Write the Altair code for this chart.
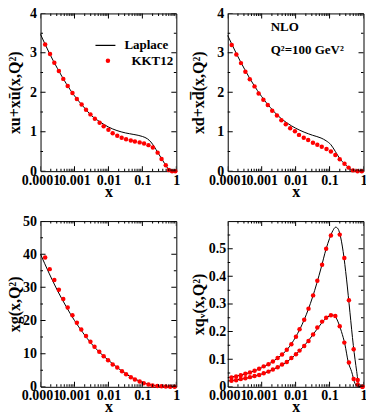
import altair as alt
import pandas as pd

# ---------------- data ----------------
# x positions are given as log10(x)
# Panel 1: xu + xubar
p1_kkt_lx = [-3.864, -3.72, -3.594, -3.46, -3.33, -3.20, -3.06, -2.93, -2.79, -2.66, -2.53, -2.40,
             -2.26, -2.14, -2.00, -1.875, -1.74, -1.61, -1.48, -1.34, -1.22, -1.08, -0.95, -0.82,
             -0.69, -0.55, -0.435, -0.31, -0.22, -0.125, -0.03]
p1_kkt_y = [3.21, 2.97, 2.75, 2.54, 2.34, 2.16, 1.98, 1.83, 1.69, 1.56, 1.44, 1.33,
            1.23, 1.14, 1.05, 0.96, 0.90, 0.85, 0.81, 0.78, 0.75, 0.73, 0.70, 0.66,
            0.60, 0.47, 0.31, 0.15, 0.03, 0.0, 0.0]
p1_lap_lx = [-4.0, -3.75, -3.5, -3.25, -3.0, -2.75, -2.5, -2.25, -2.0, -1.75, -1.5, -1.25, -1.0,
             -0.85, -0.75, -0.65, -0.55, -0.45, -0.35, -0.25, -0.15, 0.0]
p1_lap_y = [3.47, 3.01, 2.60, 2.23, 1.91, 1.65, 1.41, 1.25, 1.12, 1.03, 0.97, 0.93, 0.88,
            0.82, 0.74, 0.62, 0.48, 0.34, 0.20, 0.07, 0.0, 0.0]

# Panel 2: xd + xdbar
p2_kkt_lx = [-3.883, -3.746, -3.61, -3.48, -3.35, -3.21, -3.09, -2.95, -2.82, -2.69, -2.55, -2.42,
             -2.29, -2.16, -2.02, -1.90, -1.76, -1.63, -1.49, -1.36, -1.23, -1.09, -0.96, -0.83,
             -0.70, -0.56, -0.44, -0.31, -0.175, -0.05]
p2_kkt_y = [3.20, 2.96, 2.74, 2.52, 2.33, 2.15, 1.97, 1.81, 1.68, 1.53, 1.41, 1.29,
            1.19, 1.09, 1.01, 0.92, 0.85, 0.79, 0.72, 0.67, 0.62, 0.56, 0.50, 0.41,
            0.30, 0.19, 0.09, 0.02, 0.0, 0.0]
p2_lap_lx = [-4.0, -3.75, -3.5, -3.25, -3.0, -2.75, -2.5, -2.25, -2.0, -1.75, -1.5, -1.25, -1.1,
             -0.96, -0.83, -0.70, -0.56, -0.44, -0.31, -0.2, 0.0]
p2_lap_y = [3.44, 2.99, 2.58, 2.21, 1.89, 1.62, 1.39, 1.22, 1.09, 0.99, 0.91, 0.84, 0.77,
            0.67, 0.50, 0.32, 0.19, 0.09, 0.02, 0.0, 0.0]

# Panel 3: xg
p3_kkt_lx = [-3.864, -3.73, -3.594, -3.46, -3.33, -3.20, -3.06, -2.93, -2.80, -2.66, -2.53, -2.41,
             -2.27, -2.14, -2.01, -1.875, -1.74, -1.60, -1.48, -1.34, -1.22, -1.08, -0.96, -0.82,
             -0.70, -0.56, -0.435, -0.31, -0.18, -0.05]
p3_kkt_y = [39.0, 35.5, 32.2, 29.3, 26.5, 23.9, 21.6, 19.3, 17.3, 15.3, 13.6, 12.1,
            10.6, 9.2, 8.0, 6.7, 5.8, 4.7, 3.8, 2.9, 2.2, 1.6, 1.1, 0.7,
            0.4, 0.25, 0.15, 0.08, 0.03, 0.0]
p3_lap_lx = [-4.0, -3.75, -3.5, -3.25, -3.0, -2.75, -2.5, -2.25, -2.0, -1.75, -1.5, -1.25, -1.0,
             -0.75, -0.5, -0.25, 0.0]
p3_lap_y = [40.0, 34.3, 29.0, 24.3, 20.0, 16.3, 13.0, 10.3, 8.0, 5.9, 4.0, 2.5, 1.4,
            0.6, 0.15, 0.02, 0.0]

# Panel 4: valence (two series)
p4_kkt_lx = [-3.89, -3.753, -3.616, -3.48, -3.346, -3.21, -3.075, -2.94, -2.80, -2.67, -2.53, -2.40,
             -2.26, -2.125, -1.99, -1.884, -1.747, -1.62, -1.485, -1.36, -1.22, -1.10, -0.96]
p4_kkt_up_y = [0.034, 0.0375, 0.042, 0.047, 0.052, 0.058, 0.065, 0.074, 0.082, 0.092, 0.104, 0.117,
               0.134, 0.154, 0.181, 0.208, 0.243, 0.283, 0.331, 0.384, 0.442, 0.500, 0.548]
p4_kkt_up_tail_lx = [-0.70, -0.565, -0.43, -0.29, -0.17, -0.03]
p4_kkt_up_tail_y = [0.551, 0.466, 0.313, 0.136, 0.025, 0.0]
p4_kkt_dn_y = [0.022, 0.024, 0.028, 0.031, 0.035, 0.039, 0.043, 0.049, 0.055, 0.063, 0.071, 0.081,
               0.090, 0.104, 0.118, 0.131, 0.148, 0.166, 0.189, 0.215, 0.236, 0.250, 0.259]
p4_kkt_dn_tail_lx = [-0.83, -0.70, -0.565, -0.43, -0.29, -0.17, -0.03]
p4_kkt_dn_tail_y = [0.256, 0.219, 0.160, 0.088, 0.028, 0.008, 0.0]
p4_lap_up_lx = [-4.0, -3.5, -3.0, -2.5, -2.25, -2.0, -1.75, -1.5, -1.25, -1.1, -1.0, -0.9, -0.82,
                -0.75, -0.7, -0.6, -0.5, -0.4, -0.3, -0.2, -0.13, -0.05]
p4_lap_up_y = [0.033, 0.046, 0.069, 0.107, 0.135, 0.180, 0.242, 0.325, 0.430, 0.500, 0.537, 0.566,
               0.578, 0.572, 0.555, 0.49, 0.39, 0.27, 0.15, 0.055, 0.0, 0.0]
p4_lap_dn_lx = [-4.0, -3.5, -3.0, -2.5, -2.25, -2.0, -1.75, -1.5, -1.25, -1.1, -1.0, -0.93, -0.85,
                -0.75, -0.65, -0.55, -0.45, -0.35, -0.25, -0.15, -0.05]
p4_lap_dn_y = [0.021, 0.030, 0.046, 0.073, 0.091, 0.117, 0.148, 0.187, 0.228, 0.249, 0.257, 0.260,
               0.257, 0.235, 0.20, 0.155, 0.09, 0.055, 0.012, 0.0, 0.0]

x_major = [0.0001, 0.001, 0.01, 0.1, 1]
x_minor = [m * 10.0 ** e for e in range(-4, 0) for m in range(2, 10)]

legend_names = ["Laplace", "KKT12"]
annot_text = ["NLO", "Q²=100 GeV²"]

# ---------------- styling ----------------
FONT = "Liberation Serif"
W = 136
H_TOP, H_BOT = 158, 166
MAJ, MIN = 10, 5  # tick mark length (outer half is clipped away -> inward ticks)


def df_xy(lx, y, s=None):
    d = pd.DataFrame({"x": [10.0 ** v for v in lx], "y": y})
    if s is not None:
        d["s"] = s
    return d


def panel(lines, points, ydom, ymajor, yminor, yfmt, ytitle, title_x, h, label_pad=4,
          line_stroke=None, point_fill=None, extra=None):
    xs = alt.Scale(type="log", domain=[1e-4, 1], nice=False)
    ys = alt.Scale(domain=ydom, nice=False, zero=False)
    xaxis = alt.Axis(values=x_major, format=".4~f", ticks=False, domain=False, grid=False,
                     labelOverlap=False, labelFlush=False, labelPadding=2, title="x",
                     titleY=25, titleBaseline="alphabetic")
    yaxis = alt.Axis(values=ymajor, format=yfmt, ticks=False, domain=False, grid=False,
                     labelOverlap=False, labelPadding=label_pad, title=ytitle,
                     titleX=title_x, titleY=h / 2, titleAngle=270, titleAlign="center",
                     titleBaseline="alphabetic")
    X = alt.X("x:Q", scale=xs, axis=xaxis)
    Y = alt.Y("y:Q", scale=ys, axis=yaxis)

    layers = []
    for d in lines:
        enc = dict(x=X, y=Y)
        if "s" in d.columns:
            enc["detail"] = "s:N"
        if line_stroke is not None:
            enc["stroke"] = line_stroke
            layers.append(alt.Chart(d).mark_line(strokeWidth=1, interpolate="monotone").encode(**enc))
        else:
            layers.append(alt.Chart(d).mark_line(color="black", strokeWidth=1,
                                                 interpolate="monotone").encode(**enc))
    for d in points:
        if point_fill is not None:
            layers.append(alt.Chart(d).mark_circle(size=20, opacity=1).encode(x=X, y=Y, fill=point_fill))
        else:
            layers.append(alt.Chart(d).mark_circle(color="#ff0000", size=20, opacity=1).encode(x=X, y=Y))

    # inward ticks (tick marks centred on the frame, outer half clipped)
    xt = pd.DataFrame({
        "x": x_major * 2 + x_minor * 2,
        "y": [ydom[0]] * 5 + [ydom[1]] * 5 + [ydom[0]] * len(x_minor) + [ydom[1]] * len(x_minor),
        "len": [MAJ] * 10 + [MIN] * (2 * len(x_minor)),
    })
    yt = pd.DataFrame({
        "x": [1e-4] * len(ymajor) + [1] * len(ymajor) + [1e-4] * len(yminor) + [1] * len(yminor),
        "y": ymajor * 2 + yminor * 2,
        "len": [MAJ] * (2 * len(ymajor)) + [MIN] * (2 * len(yminor)),
    })
    layers.append(alt.Chart(xt).mark_tick(orient="vertical", clip=True, color="black",
                                          thickness=1, opacity=1)
                  .encode(x=X, y=Y, size=alt.Size("len:Q", scale=None, legend=None)))
    layers.append(alt.Chart(yt).mark_tick(orient="horizontal", clip=True, color="black",
                                          thickness=1, opacity=1)
                  .encode(x=X, y=Y, size=alt.Size("len:Q", scale=None, legend=None)))
    if extra is not None:
        layers.extend(extra)
    return alt.layer(*layers).properties(width=W, height=h)


leg_common = dict(title=None, orient="none", padding=0, labelFont=FONT, labelFontSize=13,
                  labelFontWeight="bold", labelColor="black")
stroke_enc = alt.Stroke("s:N", scale=alt.Scale(domain=[legend_names[0]], range=["black"]),
                        legend=alt.Legend(symbolType="stroke", symbolSize=400, symbolStrokeWidth=1.2,
                                          symbolStrokeColor="black", labelOffset=8,
                                          legendX=54, legendY=21, **leg_common))
fill_enc = alt.Fill("s:N", scale=alt.Scale(domain=[legend_names[1]], range=["#ff0000"]),
                    legend=alt.Legend(symbolType="circle", symbolSize=20, symbolStrokeWidth=0,
                                      labelOffset=17, legendX=61, legendY=41, **leg_common))

p1 = panel([df_xy(p1_lap_lx, p1_lap_y, legend_names[0])],
           [df_xy(p1_kkt_lx, p1_kkt_y, legend_names[1])],
           [0, 4], [0, 1, 2, 3, 4], [0.5, 1.5, 2.5, 3.5], "d",
           "xu+xū(x,Q²)", -21, H_TOP, line_stroke=stroke_enc, point_fill=fill_enc)

annot1 = alt.Chart(pd.DataFrame({"t": [annot_text[0]]})).mark_text(
    align="left", baseline="middle", font=FONT, fontSize=13, fontWeight="bold", color="black"
).encode(text="t:N", x=alt.value(43), y=alt.value(14))
annot2 = alt.Chart(pd.DataFrame({"t": [annot_text[1]]})).mark_text(
    align="left", baseline="middle", font=FONT, fontSize=13, fontWeight="bold", color="black"
).encode(text="t:N", x=alt.value(43), y=alt.value(37))

p2 = panel([df_xy(p2_lap_lx, p2_lap_y)], [df_xy(p2_kkt_lx, p2_kkt_y)],
           [0, 4], [0, 1, 2, 3, 4], [0.5, 1.5, 2.5, 3.5], "d",
           "xd+xd\u0305(x,Q²)", -24.5, H_TOP, extra=[annot1, annot2])

p3 = panel([df_xy(p3_lap_lx, p3_lap_y)], [df_xy(p3_kkt_lx, p3_kkt_y)],
           [0, 50], [0, 10, 20, 30, 40, 50], [5, 15, 25, 35, 45], "d",
           "xg(x,Q²)", -21, H_BOT)

p4_lines = pd.concat([df_xy(p4_lap_up_lx, p4_lap_up_y, "up"), df_xy(p4_lap_dn_lx, p4_lap_dn_y, "dn")])
p4_pts = pd.concat([df_xy(p4_kkt_lx + p4_kkt_up_tail_lx, p4_kkt_up_y + p4_kkt_up_tail_y),
                    df_xy(p4_kkt_lx + p4_kkt_dn_tail_lx, p4_kkt_dn_y + p4_kkt_dn_tail_y)])
p4 = panel([p4_lines], [p4_pts],
           [0, 0.6], [0, 0.1, 0.2, 0.3, 0.4, 0.5], [0.05, 0.15, 0.25, 0.35, 0.45, 0.55], "~g",
           "xq\u1d65(x,Q²)", -24.5, H_BOT, label_pad=2)

chart = alt.concat(p1, p2, p3, p4, columns=2, spacing={"row": 50, "column": 51.5},
                   bounds="flush").properties(
    padding={"left": -2.4, "top": -2.9, "right": -2, "bottom": 0}
).configure_view(
    stroke="black", strokeWidth=1
).configure_axis(
    labelFont=FONT, labelFontSize=14, labelFontWeight="bold", labelColor="black",
    titleFont=FONT, titleFontSize=16, titleFontWeight="bold", titleColor="black"
)

chart.save("out.html", embed_options={"renderer": "svg", "actions": False})
